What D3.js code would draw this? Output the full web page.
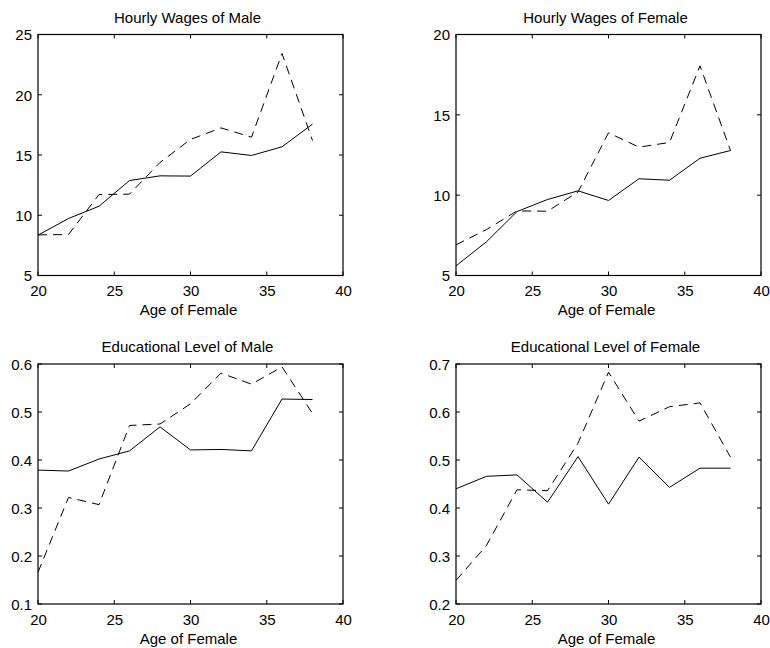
<!DOCTYPE html>
<html><head><meta charset="utf-8">
<script src="https://cdn.jsdelivr.net/npm/d3@7"></script>
<style>
body{margin:0;background:#fff;}
svg{display:block;}
text{font-family:"Liberation Sans",Arial,Helvetica,sans-serif;fill:#000;}
</style></head>
<body>
<svg id="chart" width="770" height="648"></svg>
<script>
const ages = [20,22,24,26,28,30,32,34,36,38];
const xTicks = [20,25,30,35,40];
const xLabel = "Age of Female";

const titles = ["Hourly Wages of Male","Hourly Wages of Female","Educational Level of Male","Educational Level of Female"];

const wageMaleSolid  = [8.35,9.73,10.75,12.88,13.27,13.25,15.26,14.96,15.68,17.56];
const wageMaleDashed = [8.37,8.40,11.72,11.75,14.38,16.29,17.25,16.48,23.42,16.2];
const wageFemSolid   = [5.6,7.1,8.98,9.73,10.27,9.67,11.02,10.93,12.3,12.78];
const wageFemDashed  = [6.91,7.86,9.02,9.0,10.2,13.88,12.99,13.28,18.05,12.78];
const eduMaleSolid   = [0.379,0.377,0.402,0.419,0.469,0.421,0.422,0.419,0.527,0.526];
const eduMaleDashed  = [0.166,0.322,0.307,0.472,0.475,0.517,0.581,0.558,0.594,0.497];
const eduFemSolid    = [0.440,0.466,0.469,0.412,0.507,0.408,0.506,0.443,0.483,0.483];
const eduFemDashed   = [0.249,0.322,0.438,0.436,0.535,0.683,0.581,0.611,0.619,0.506];

const yTicks = [
  [5,10,15,20,25],
  [5,10,15,20],
  [0.1,0.2,0.3,0.4,0.5,0.6],
  [0.2,0.3,0.4,0.5,0.6,0.7]
];
const yTickLabels = [
  ["5","10","15","20","25"],
  ["5","10","15","20"],
  ["0.1","0.2","0.3","0.4","0.5","0.6"],
  ["0.2","0.3","0.4","0.5","0.6","0.7"]
];
const solidSeries = [wageMaleSolid, wageFemSolid, eduMaleSolid, eduFemSolid];
const dashedSeries = [wageMaleDashed, wageFemDashed, eduMaleDashed, eduFemDashed];

const panels = [
  {l:38, r:343, t:34.5, b:275.5},
  {l:456, r:761, t:34.5, b:275.5},
  {l:38, r:343, t:364, b:604},
  {l:456, r:761, t:364, b:604}
];

const svg = d3.select("#chart");
const fs = 15;
const tickLen = 4;

panels.forEach((p, i) => {
  const yt = yTicks[i];
  const x = d3.scaleLinear().domain([20,40]).range([p.l, p.r]);
  const y = d3.scaleLinear().domain([yt[0], yt[yt.length-1]]).range([p.b, p.t]);
  const g = svg.append("g");

  g.append("text").attr("x", (p.l+p.r)/2 - 3).attr("y", p.t - 12)
    .attr("text-anchor","middle").attr("font-size", fs).text(titles[i]);

  g.append("rect").attr("x", p.l).attr("y", p.t).attr("width", p.r-p.l).attr("height", p.b-p.t)
    .attr("fill","none").attr("stroke","#000").attr("stroke-width",1.2);

  const xAxisB = d3.axisBottom(x).tickValues(xTicks).tickSize(0).tickPadding(0).tickFormat(d3.format("d"));
  const gx = g.append("g").attr("transform",`translate(0,${p.b})`).call(xAxisB);
  gx.select(".domain").remove();
  gx.selectAll("text").attr("font-size", fs).attr("dy", null).attr("y", 20.5).style("font-family", "inherit");
  xTicks.forEach(v => {
    g.append("line").attr("x1", x(v)).attr("x2", x(v)).attr("y1", p.b).attr("y2", p.b - tickLen).attr("stroke","#000");
    g.append("line").attr("x1", x(v)).attr("x2", x(v)).attr("y1", p.t).attr("y2", p.t + tickLen).attr("stroke","#000");
  });

  const yAxisL = d3.axisLeft(y).tickValues(yt).tickSize(0).tickPadding(6)
    .tickFormat((d,k) => yTickLabels[i][k]);
  const gy = g.append("g").attr("transform",`translate(${p.l},0)`).call(yAxisL);
  gy.select(".domain").remove();
  gy.selectAll("text").attr("font-size", fs).attr("dy","0.36em").style("font-family","inherit");
  yt.forEach(v => {
    g.append("line").attr("x1", p.l).attr("x2", p.l + tickLen).attr("y1", y(v)).attr("y2", y(v)).attr("stroke","#000");
    g.append("line").attr("x1", p.r).attr("x2", p.r - tickLen).attr("y1", y(v)).attr("y2", y(v)).attr("stroke","#000");
  });

  g.append("text").attr("x", (p.l+p.r)/2 - 2).attr("y", p.b + 39.5)
    .attr("text-anchor","middle").attr("font-size", fs).text(xLabel);

  const line = d3.line().x((d,k) => x(ages[k])).y(d => y(d));
  g.append("path").datum(solidSeries[i]).attr("d", line)
    .attr("fill","none").attr("stroke","#000").attr("stroke-width",1);
  g.append("path").datum(dashedSeries[i]).attr("d", line)
    .attr("fill","none").attr("stroke","#000").attr("stroke-width",1)
    .attr("stroke-dasharray","9,6");
});
</script>
</body></html>
